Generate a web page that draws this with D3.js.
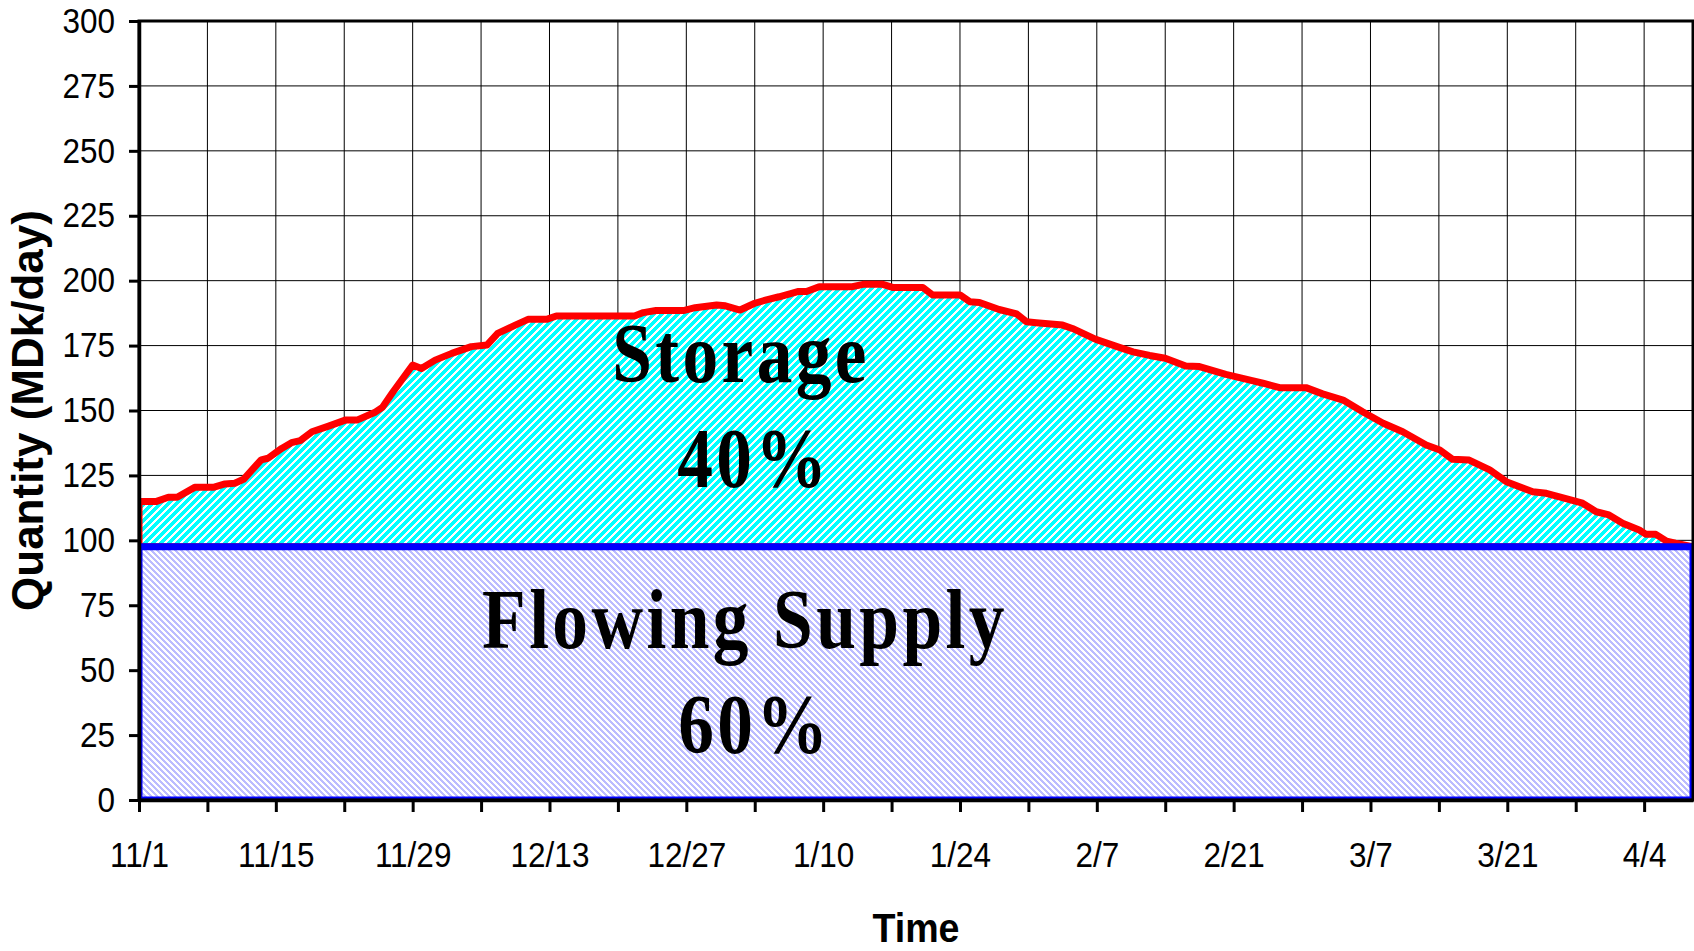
<!DOCTYPE html>
<html>
<head>
<meta charset="utf-8">
<script src="https://cdn.jsdelivr.net/npm/d3@7"></script>
<style>
body { margin: 0; background: #fff; }
svg { display: block; }
text { font-family: "Liberation Sans", Arial, sans-serif; }
</style>
</head>
<body>
<svg id="chart" width="1694" height="951"></svg>
<script>
// days since 11/1 and total supply (flowing + storage), MDk/day
const days = [0, 1.8, 3, 3.9, 5.7, 7.6, 8.8, 9.8, 10.7, 12.5, 13.2, 14.6, 15.6, 16.5, 17.7, 19.4, 21.1, 22.3, 24.1, 24.9,
  26, 28, 28.9, 30.3, 32, 34, 35.6, 36.7, 38.5, 39.8, 41.7, 42.7, 50.7, 51.6, 52.9, 55.7, 56.9, 59.1, 60, 61.5,
  63, 64.2, 65.5, 67.4, 68.3, 69.6, 73, 74.1, 76.1, 77.1, 80.2, 81.2, 84, 85, 86, 88, 89.8, 90.8, 91.8, 94.5,
  95.5, 97.9, 100.3, 101.7, 103.4, 105, 107.1, 108.5, 111.2, 113.9, 115, 116.7, 119.4, 121.1, 123.2, 125.2, 127.3, 129.3, 131.7, 133.1,
  134.4, 136.1, 138.2, 139.9, 142.6, 144, 146, 147.7, 149.1, 150.4, 151.8, 153.5, 154.2, 155.2, 156.3, 157.2, 159];
const totalSupply = [115, 115, 116.6, 116.6, 120.4, 120.4, 121.7, 122, 123.5, 131, 131.6, 135.4, 137.6, 138.4, 141.8, 144, 146.3, 146.3, 149.2, 151.2,
  157.2, 167.5, 166.2, 169.4, 172, 174.6, 175.2, 179.7, 182.9, 185.1, 185.1, 186.4, 186.4, 187.7, 188.5, 188.5, 189.6, 190.6, 190.3, 188.7,
  191.3, 192.6, 193.8, 195.8, 195.8, 197.7, 197.7, 198.6, 198.6, 197.4, 197.4, 194.5, 194.5, 191.9, 191.6, 188.9, 187.2, 184.2, 183.8, 182.9,
  181.6, 177.4, 174.3, 172.6, 171.2, 170.1, 167.1, 166.9, 163.9, 161.5, 160.5, 158.8, 158.8, 156.4, 154, 149.5, 145.1, 141.8, 136.7, 134.8,
  131.2, 130.9, 127.1, 122.6, 118.7, 118.1, 116.1, 114.3, 111, 109.8, 106.6, 104, 102.3, 102.3, 99.7, 98.9, 97.5];
const flowingSupply = 97.5;

const yTicks = [0, 25, 50, 75, 100, 125, 150, 175, 200, 225, 250, 275, 300];
const xTickLabels = ["11/1", "11/15", "11/29", "12/13", "12/27", "1/10", "1/24", "2/7", "2/21", "3/7", "3/21", "4/4"];

const notes = [
  {text: "Storage", day: 61.6, value: 161},
  {text: "40%", day: 62.9, value: 120.5},
  {text: "Flowing Supply", day: 62, value: 58.5},
  {text: "60%", day: 63, value: 18.1}
];

const data = days.map((d, i) => ({day: d, total: totalSupply[i]}));

const svg = d3.select("#chart");
const plotLeft = 139, plotRight = 1693, plotTop = 21, plotBottom = 800;

const x = d3.scaleLinear().domain([0, 159]).range([plotLeft, plotRight]);
const y = d3.scaleLinear().domain([0, 300]).range([plotBottom, plotTop]);

// hatch fills
const defs = svg.append("defs");
const pS = defs.append("pattern").attr("id", "hatchStorage")
    .attr("patternUnits", "userSpaceOnUse").attr("width", 8).attr("height", 8);
pS.append("rect").attr("width", 8).attr("height", 8).attr("fill", "#fff");
pS.append("path").attr("d", "M-2,2L2,-2M0,8L8,0M6,10L10,6")
    .attr("stroke", "#00ffff").attr("stroke-width", 2.9).attr("shape-rendering", "crispEdges");

const pF = defs.append("pattern").attr("id", "hatchFlow")
    .attr("patternUnits", "userSpaceOnUse").attr("width", 6).attr("height", 6);
pF.append("rect").attr("width", 6).attr("height", 6).attr("fill", "#bcbcff");
pF.append("path").attr("d", "M0,0L6,6M-3,3L3,9M3,-3L9,3")
    .attr("stroke", "#fff").attr("stroke-width", 1.5).attr("shape-rendering", "crispEdges");

defs.append("clipPath").attr("id", "plotClip")
  .append("rect").attr("x", plotLeft).attr("y", plotTop)
    .attr("width", plotRight - plotLeft).attr("height", plotBottom - plotTop);

// grid
const gridDays = d3.range(7, 159, 7);
svg.append("g").selectAll("line").data(gridDays).enter().append("line")
    .attr("x1", d => x(d)).attr("x2", d => x(d))
    .attr("y1", plotTop).attr("y2", plotBottom)
    .attr("stroke", "#000").attr("stroke-width", 1);
svg.append("g").selectAll("line").data(yTicks.slice(1, -1)).enter().append("line")
    .attr("x1", plotLeft).attr("x2", plotRight)
    .attr("y1", d => y(d)).attr("y2", d => y(d))
    .attr("stroke", "#000").attr("stroke-width", 1);

// areas
const plot = svg.append("g").attr("clip-path", "url(#plotClip)");

const storageArea = d3.area()
    .x(d => x(d.day))
    .y0(y(flowingSupply))
    .y1(d => y(d.total));
const flowArea = d3.area()
    .x(d => x(d.day))
    .y0(y(0))
    .y1(y(flowingSupply));

plot.append("path").datum(data)
    .attr("d", storageArea)
    .attr("fill", "url(#hatchStorage)")
    .attr("stroke", "#ff0000").attr("stroke-width", 7)
    .attr("stroke-linejoin", "round");

plot.append("path").datum(data)
    .attr("d", flowArea)
    .attr("fill", "url(#hatchFlow)")
    .attr("stroke", "#0000ff").attr("stroke-width", 7);

// axes
const yAxis = svg.append("g")
    .attr("transform", "translate(" + plotLeft + ",0)")
    .call(d3.axisLeft(y).tickValues(yTicks).tickSize(10).tickSizeOuter(0));
yAxis.select(".domain").attr("stroke-width", 3.5);
yAxis.selectAll(".tick line").attr("stroke-width", 3);
yAxis.selectAll("text")
    .attr("font-size", 35).attr("fill", "#000")
    .attr("x", -24 / 0.9)
    .attr("transform", "scale(0.9,1)");

const xAxis = svg.append("g")
    .attr("transform", "translate(0," + plotBottom + ")")
    .call(d3.axisBottom(x).tickValues(d3.range(0, 159, 7)).tickSize(12).tickSizeOuter(0)
      .tickFormat(d => d % 14 === 0 ? xTickLabels[d / 14] : ""));
xAxis.select(".domain").attr("stroke-width", 3.5);
xAxis.selectAll(".tick line").attr("stroke-width", 3);
xAxis.selectAll("text")
    .attr("font-size", 35).attr("fill", "#000")
    .attr("y", 42)
    .attr("transform", "scale(0.9,1)");

// plot frame
svg.append("rect")
    .attr("x", plotLeft).attr("y", plotTop)
    .attr("width", plotRight - plotLeft).attr("height", plotBottom - plotTop)
    .attr("fill", "none").attr("stroke", "#000").attr("stroke-width", 3);

// axis titles
svg.append("text")
    .attr("transform", "translate(" + (plotLeft + plotRight) / 2 + ",942) scale(0.94,1)")
    .attr("text-anchor", "middle")
    .attr("font-size", 40).attr("font-weight", "bold")
    .text("Time");

svg.append("text")
    .attr("transform", "translate(43," + (plotTop + plotBottom) / 2 + ") rotate(-90)")
    .attr("text-anchor", "middle")
    .attr("font-size", 44).attr("font-weight", "bold")
    .text("Quantity (MDk/day)");

// in-chart labels
svg.append("g").selectAll("text").data(notes).enter().append("text")
    .attr("transform", d => "translate(" + x(d.day) + "," + y(d.value) + ") scale(0.85,1)")
    .attr("text-anchor", "middle")
    .style("font-family", "'Liberation Serif', 'Times New Roman', serif")
    .attr("font-weight", "bold")
    .attr("font-size", 84)
    .attr("letter-spacing", 4)
    .attr("fill", "#000")
    .text(d => d.text);
</script>
</body>
</html>
